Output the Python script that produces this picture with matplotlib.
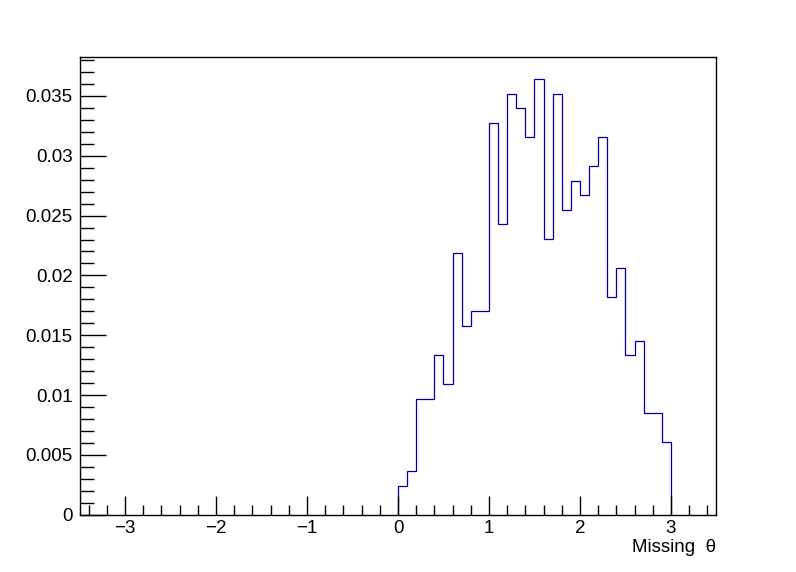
import numpy as np
import matplotlib.pyplot as plt
from matplotlib.ticker import MultipleLocator, FuncFormatter

# bin edges (0 to 3 in steps of 0.1) and normalised contents
edges = np.linspace(0.0, 3.0, 31)
values = [0.00243, 0.00364, 0.00971, 0.00971, 0.01335, 0.01092,
          0.02184, 0.01578, 0.01699, 0.01699, 0.03277, 0.02427,
          0.03519, 0.03398, 0.03155, 0.03641, 0.02306, 0.03519,
          0.02549, 0.02791, 0.02670, 0.02913, 0.03155, 0.01820,
          0.02063, 0.01335, 0.01456, 0.00850, 0.00850, 0.00607]

plt.rcParams['font.family'] = ['Liberation Sans', 'DejaVu Sans']

fig = plt.figure(figsize=(7.96, 5.72), dpi=100)
ax = fig.add_axes([0.1, 0.1, 0.8, 0.8])

ax.stairs(values, edges, baseline=0, color='#000099', linewidth=0.9)

ax.set_xlim(-3.5, 3.5)
ax.set_ylim(0, max(values) * 1.05)

ax.xaxis.set_major_locator(MultipleLocator(1))
ax.xaxis.set_minor_locator(MultipleLocator(0.2))
ax.yaxis.set_major_locator(MultipleLocator(0.005))
ax.yaxis.set_minor_locator(MultipleLocator(0.001))

def yfmt(v, pos):
    s = ('%.3f' % v).rstrip('0').rstrip('.')
    return s
ax.yaxis.set_major_formatter(FuncFormatter(yfmt))

ax.tick_params(axis='both', which='both', direction='in', colors='black',
               labelsize=13.5, width=1)
ax.tick_params(axis='x', which='major', length=13.5, pad=4)
ax.tick_params(axis='x', which='minor', length=7)
ax.tick_params(axis='y', which='major', length=19, pad=5)
ax.tick_params(axis='y', which='minor', length=10)

for sp in ax.spines.values():
    sp.set_linewidth(1)

ax.text(1.0, -0.071, 'Missing  θ', transform=ax.transAxes, ha='right',
        va='center', fontsize=13.5)

fig.savefig('out.png', dpi=100)
